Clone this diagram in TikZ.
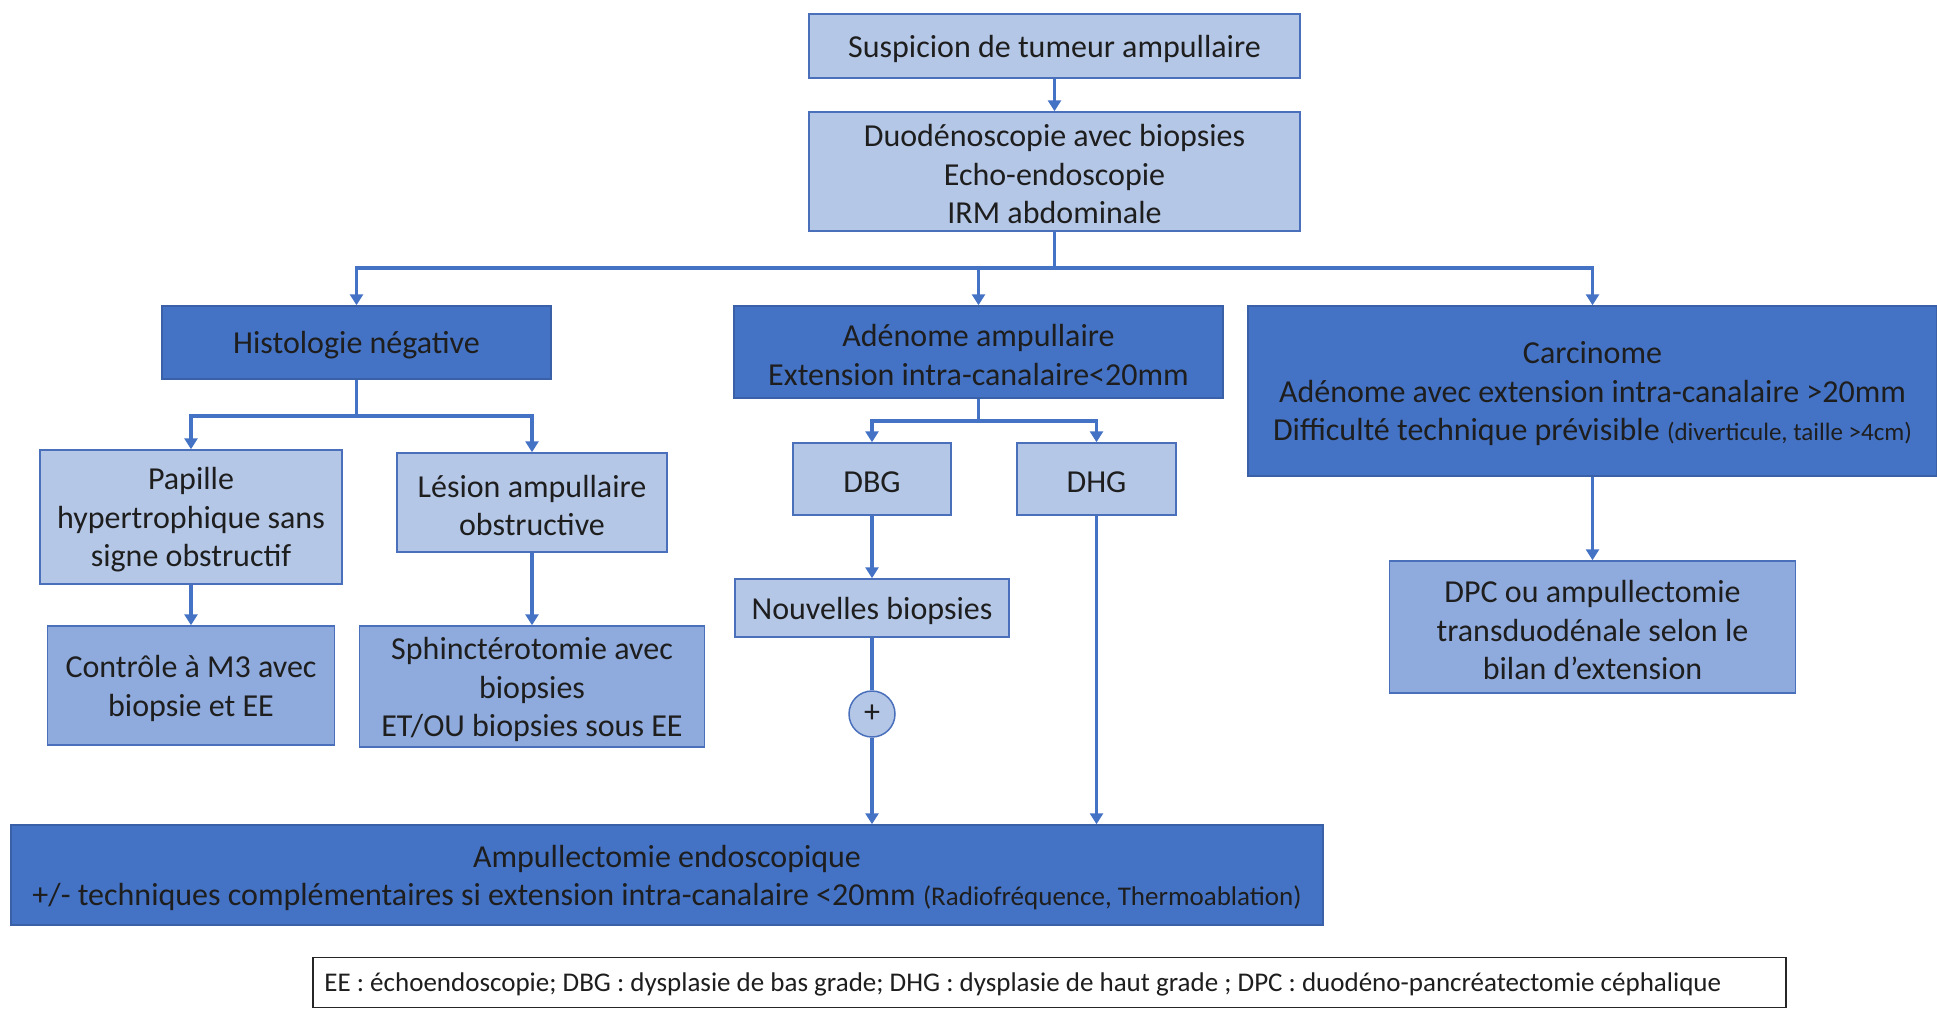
\documentclass[tikz,border=0pt]{standalone}
\usepackage{fontspec}
\setmainfont{Carlito}
\usetikzlibrary{arrows.meta}
\definecolor{boxlight}{HTML}{B4C7E7}
\definecolor{boxmid}{HTML}{8FAADC}
\definecolor{boxdark}{HTML}{4472C4}
\definecolor{edgeblue}{HTML}{4A70BC}
\definecolor{linkblue}{HTML}{4472C4}
\definecolor{ink}{HTML}{1E1E1E}
\newcommand{\notesize}{\fontsize{25}{30}\selectfont}
\newcommand{\techsize}{\fontsize{27}{30}\selectfont}
\tikzset{
  base/.style={rectangle, inner sep=0pt, line width=1.5pt},
  % the text sits as a centred label, set a little low in its box
  txt/.style={inner sep=0pt, align=center, text=ink, yshift=-3pt,
    font=\fontsize{32}{38.5}\selectfont},
  light/.style={base, fill=boxlight, draw=edgeblue},
  mid/.style={base, fill=boxmid, draw=edgeblue},
  dark/.style={base, fill=boxdark, draw=boxdark!85!black},
  link/.style={draw=linkblue, line width=3.5pt},
  arrow/.style={link, -{Triangle[length=11pt,width=13pt]}},
}
\begin{document}
\begin{tikzpicture}[x=1pt,y=-1pt]
\useasboundingbox (0,0) rectangle (1937,1009);

% top of the flow
\node[light, minimum width=491pt, minimum height=64pt,
  label={[txt]center:Suspicion de tumeur ampullaire}] (susp) at (1054.5,46) {};
\node[light, minimum width=491pt, minimum height=119pt,
  label={[txt]center:{Duodénoscopie avec biopsies\\Echo-endoscopie\\IRM abdominale}}] (duo) at (1054.5,171.5) {};

% three main outcomes
\node[dark, minimum width=389pt, minimum height=73pt,
  label={[txt]center:Histologie négative}] (histo) at (356.5,342.5) {};
\node[dark, minimum width=489pt, minimum height=92pt,
  label={[txt]center:{Adénome ampullaire\\Extension intra-canalaire<20mm}}] (adeno) at (978.5,352) {};
\node[dark, minimum width=689pt, minimum height=170pt,
  label={[txt]center:{Carcinome\\Adénome avec extension intra-canalaire >20mm\\Difficulté technique prévisible {\notesize(diverticule, taille >4cm)}}}] (carc) at (1592.5,391) {};

% negative histology branch
\node[light, minimum width=302pt, minimum height=134pt,
  label={[txt]center:{Papille\\hypertrophique sans\\signe obstructif}}] (papille) at (191,517) {};
\node[light, minimum width=270pt, minimum height=99pt,
  label={[txt]center:{Lésion ampullaire\\obstructive}}] (lesion) at (532,502.5) {};
\node[mid, minimum width=287pt, minimum height=119pt,
  label={[txt]center:{Contrôle à M3 avec\\biopsie et EE}}] (ctrl) at (191,685.5) {};
\node[mid, minimum width=345pt, minimum height=121pt,
  label={[txt]center:{Sphinctérotomie avec\\biopsies\\ET/OU biopsies sous EE}}] (sphin) at (532,686.5) {};

% adenoma branch
\node[light, minimum width=158pt, minimum height=72pt,
  label={[txt]center:DBG}] (dbg) at (872,479) {};
\node[light, minimum width=159pt, minimum height=72pt,
  label={[txt]center:DHG}] (dhg) at (1096.5,479) {};
\node[light, minimum width=274pt, minimum height=58pt,
  label={[txt]center:Nouvelles biopsies}] (nouv) at (872,608) {};
\node[circle, fill=boxlight, draw=edgeblue, line width=1.5pt, minimum size=46pt, inner sep=0pt,
  text=ink, font=\fontsize{32}{32}\selectfont] (plus) at (872,714) {+};
\node[dark, minimum width=1312pt, minimum height=100pt,
  label={[txt]center:{Ampullectomie endoscopique\\+/- techniques complémentaires si extension intra-canalaire <20mm {\techsize(Radiofréquence, Thermoablation)}}}] (ampul) at (667,875) {};

% carcinoma branch
\node[mid, minimum width=406pt, minimum height=132pt,
  label={[txt]center:{DPC ou ampullectomie\\transduodénale selon le\\bilan d’extension}}] (dpc) at (1592.5,627) {};

% abbreviations, left-aligned in a framed strip
\node[rectangle, draw=black!85, fill=white, line width=1.5pt, minimum width=1473pt, minimum height=50pt,
  inner sep=0pt,
  label={[txt, anchor=west, xshift=12pt, yshift=1pt, font=\fontsize{27}{30}\selectfont]west:EE : échoendoscopie; DBG : dysplasie de bas grade; DHG : dysplasie de haut grade ; DPC : duodéno-pancréatectomie céphalique}]
  (legend) at (1049.5,982.5) {};

% connectors
\coordinate (bus) at (1054.5,268);
\coordinate (hbus) at (356.5,416);
\coordinate (abus) at (978.5,421);
\draw[arrow] (susp) -- (duo);
\draw[link] (duo.south) -- (bus);
\draw[arrow] (bus) -| (histo.north);
\draw[arrow] (bus) -| (adeno.north);
\draw[arrow] (bus) -| (carc.north);
\draw[link] (histo.south) -- (hbus);
\draw[arrow] (hbus) -| (papille.north);
\draw[arrow] (hbus) -| (lesion.north);
\draw[arrow] (papille) -- (ctrl);
\draw[arrow] (lesion) -- (sphin);
\draw[link] (adeno.south) -- (abus);
\draw[arrow] (abus) -| (dbg.north);
\draw[arrow] (abus) -| (dhg.north);
\draw[arrow] (dbg) -- (nouv);
\draw[link] (nouv.south) -- (plus.north);
\draw[arrow] (plus.south) -- (plus.south |- ampul.north);
\draw[arrow] (dhg.south) -- (dhg.south |- ampul.north);
\draw[arrow] (carc) -- (dpc);
\end{tikzpicture}
\end{document}
